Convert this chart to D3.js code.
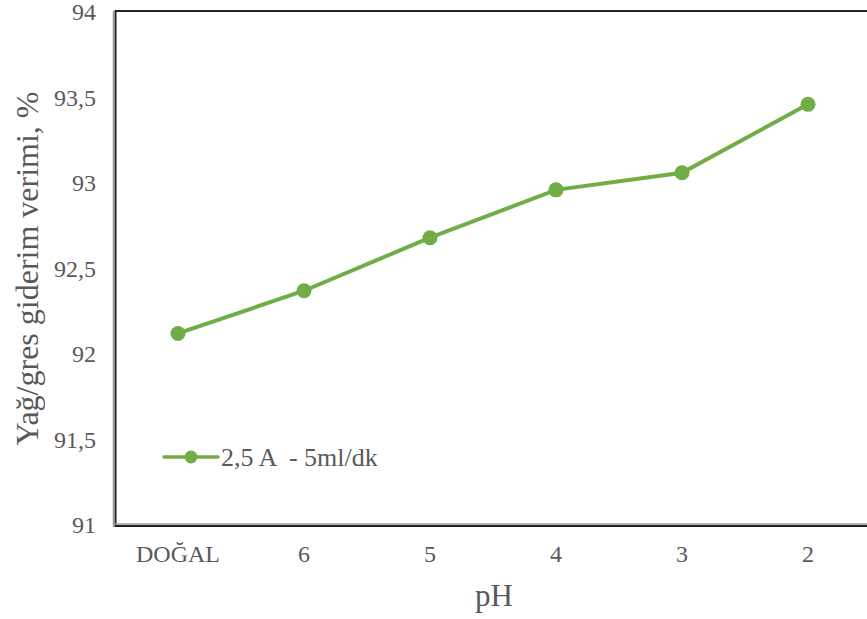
<!DOCTYPE html>
<html><head><meta charset="utf-8">
<script src="https://cdn.jsdelivr.net/npm/d3@7"></script>
<style>body{margin:0;background:#fff}svg{display:block}svg text{font-family:"Liberation Serif","Times New Roman",Times,serif}</style>
</head><body>
<svg id="c" width="867" height="619"></svg>
<script>
const categories = ["DOĞAL","6","5","4","3","2"];
const values = [92.12, 92.37, 92.68, 92.96, 93.06, 93.46];
const yTicks = [91, 91.5, 92, 92.5, 93, 93.5, 94];
const seriesName = "2,5 A  - 5ml/dk";
const yTitle = "Yağ/gres giderim verimi, %";
const xTitle = "pH";

(function(){
const svg = d3.select("#c");
const mLeft = 115, mRight = 871, mTop = 12, mBottom = 525;
const x = d3.scaleBand().domain(categories).range([mLeft, mRight]);
const y = d3.scaleLinear().domain([91, 94]).range([mBottom, mTop]);
const green = "#70AD47";
const txt = "#595959";

// frame
svg.append("rect").attr("x", mLeft + 0.5).attr("y", 11).attr("width", mRight - mLeft).attr("height", 515)
  .attr("fill", "none").attr("stroke", "#222").attr("stroke-width", 2);
svg.append("line").attr("x1", 113.5).attr("x2", 113.5).attr("y1", 11).attr("y2", 527)
  .attr("stroke", "#999").attr("stroke-width", 1.5);
svg.append("line").attr("x1", 113).attr("x2", mRight).attr("y1", 524).attr("y2", 524)
  .attr("stroke", "#999").attr("stroke-width", 1.5);

// y axis
const yAxis = d3.axisLeft(y).tickValues(yTicks).tickSize(0).tickPadding(0)
  .tickFormat(d => String(d).replace(".", ","));
const yg = svg.append("g").attr("transform", `translate(${mLeft - 19},0)`).call(yAxis);
yg.attr("font-family", null);
yg.select(".domain").remove();
yg.selectAll("text").style("font-size", "24px").attr("fill", txt);

// x axis
const xAxis = d3.axisBottom(x).tickSize(0).tickPadding(0);
const xg = svg.append("g").attr("transform", `translate(0,545)`).call(xAxis);
xg.attr("font-family", null);
xg.select(".domain").remove();
xg.selectAll("text").style("font-size", "24px").attr("fill", txt);

// titles
svg.append("text").attr("transform", `translate(38,${(mTop + mBottom) / 2}) rotate(-90)`)
  .attr("text-anchor", "middle").style("font-size", "32px")
  .attr("fill", txt).text(yTitle);
svg.append("text").attr("x", 494).attr("y", 606).attr("text-anchor", "middle")
  .style("font-size", "31px").attr("fill", txt).text(xTitle);

// line
const cx = d => x(d) + x.bandwidth() / 2;
const data = categories.map((c, i) => ({c, v: values[i]}));
svg.append("path").datum(data)
  .attr("d", d3.line().x(d => cx(d.c)).y(d => y(d.v)))
  .attr("fill", "none").attr("stroke", green).attr("stroke-width", 4).attr("stroke-linecap", "round");
svg.selectAll("circle.pt").data(data).join("circle").attr("class", "pt")
  .attr("cx", d => cx(d.c)).attr("cy", d => y(d.v)).attr("r", 7.5).attr("fill", green);

// legend
const ly = 457;
svg.append("line").attr("x1", 164).attr("x2", 218).attr("y1", ly).attr("y2", ly)
  .attr("stroke", green).attr("stroke-width", 3.5).attr("stroke-linecap", "round");
svg.append("circle").attr("cx", 191).attr("cy", ly).attr("r", 6.5).attr("fill", green);
svg.append("text").attr("x", 221).attr("y", ly + 9).style("font-size", "26px")
  .attr("fill", txt).style("white-space", "pre").text(seriesName);
})();
</script>
</body></html>
